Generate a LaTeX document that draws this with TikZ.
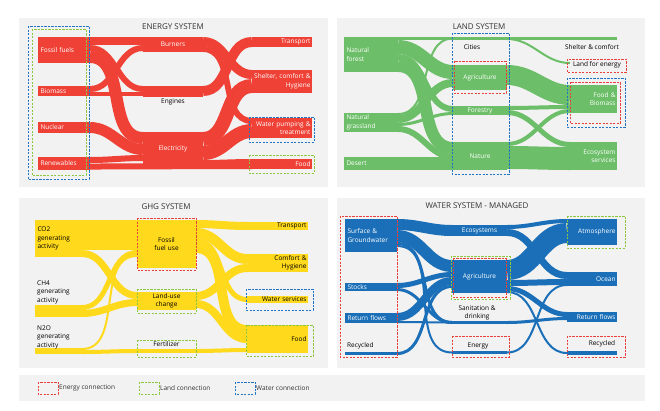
\documentclass[tikz,border=0pt]{standalone}
\usepackage{fontspec}
\setmainfont{Open Sans}
\usepackage{tikz}
\usetikzlibrary{calc}
\definecolor{NexusRed}{HTML}{EF4136}
\definecolor{NexusGreen}{HTML}{6CBE68}
\definecolor{NexusYellow}{HTML}{FFD91C}
\definecolor{NexusBlue}{HTML}{1A6FB8}
\definecolor{NexusPanel}{HTML}{F2F2F2}
\definecolor{NexusText}{HTML}{333333}
\definecolor{BoxRed}{HTML}{E8403A}
\definecolor{BoxGreen}{HTML}{8DC63F}
\definecolor{BoxBlue}{HTML}{1F75C4}
\newcommand{\flowband}[6]{\draw[#1,line width=#2pt] ($(#3.north east)+(0,#4)$) to[out=0,in=180] ($(#5.north west)+(0,#6)$);}

\begin{document}
\begin{tikzpicture}[x=1pt,y=-1pt,
  panel/.style={fill=NexusPanel},
  ttl/.style={text=NexusText,font=\fontsize{8}{9}\selectfont,inner sep=0pt},
  bar/.style={anchor=north west,inner xsep=2.5pt,inner ysep=0pt,outer sep=0pt,
    text=white,font=\fontsize{6.5}{8.5}\selectfont},
  rside/.style={inner xsep=1.5pt,align=right},
  lbl/.style={inner sep=0pt,font=\fontsize{6.5}{8.5}\selectfont,align=left},
  ebar/.style={bar,fill=NexusRed}, lbar/.style={bar,fill=NexusGreen},
  gbar/.style={bar,fill=NexusYellow,text=black}, wbar/.style={bar,fill=NexusBlue},
  enbox/.style={draw=BoxRed,line width=0.9pt,dash pattern=on 2.2pt off 1.3pt},
  ldbox/.style={draw=BoxGreen,line width=0.9pt,dash pattern=on 2.2pt off 1.3pt},
  wtbox/.style={draw=BoxBlue,line width=0.9pt,dash pattern=on 2.2pt off 1.3pt}]
  \useasboundingbox (0,0) rectangle (660,410);
  \fill[white] (0,0) rectangle (660,410);

  % energy system
  \fill[panel] (19,18) rectangle (328,187);
  \node[ttl] (etitle) at (173,27) {ENERGY SYSTEM};
  \node[ebar,text width=47pt,minimum height=26pt,align=left] (fossil) at (38,37) {Fossil fuels};
  \node[ebar,text width=47pt,minimum height=10pt,align=left] (bio) at (38,86) {Biomass};
  \node[ebar,text width=47pt,minimum height=11pt,align=left] (nuc) at (38,122) {Nuclear};
  \node[ebar,text width=47pt,minimum height=13pt,align=left] (ren) at (38,157) {Renewables};
  \node[ebar,text width=55pt,minimum height=15pt,align=center] (burn) at (143,37) {Burners};
  \node[ebar,text width=55pt,minimum height=11pt] (eng) at (143,86) {};
  \node[lbl] (engl) at (173,102) {Engines};
  \node[ebar,text width=55pt,minimum height=33pt,align=center] (elec) at (143,132) {Electricity};
  \node[ebar,rside,text width=57pt,minimum height=10pt] (trans) at (252,37) {Transport};
  \node[ebar,rside,text width=57pt,minimum height=23pt] (shel) at (252,70) {Shelter, comfort \&\\Hygiene};
  \node[ebar,rside,text width=57pt,minimum height=20pt] (water) at (252,118) {Water pumping \&\\treatment};
  \node[ebar,rside,text width=57pt,minimum height=10pt] (food) at (252,159) {Food};
  \flowband{NexusRed}{8}{fossil}{4}{burn}{4}
  \flowband{NexusRed}{6}{fossil}{11}{eng}{3}
  \flowband{NexusRed}{12}{fossil}{20}{elec}{6}
  \flowband{NexusRed}{6}{bio}{3}{burn}{11}
  \flowband{NexusRed}{4}{bio}{8}{eng}{8}
  \flowband{NexusRed}{11}{nuc}{5.5}{elec}{17.5}
  \flowband{NexusRed}{6}{ren}{3}{elec}{26}
  \flowband{NexusRed}{6}{ren}{9.5}{food}{7}
  \flowband{NexusRed}{9}{burn}{4.5}{shel}{4.5}
  \flowband{NexusRed}{6}{burn}{12}{water}{3}
  \flowband{NexusRed}{10}{eng}{5}{trans}{5}
  \flowband{NexusRed}{14}{elec}{7}{shel}{16}
  \flowband{NexusRed}{14}{elec}{21}{water}{13}
  \flowband{NexusRed}{4}{elec}{30}{food}{2}
  \draw[wtbox] (28,26) rectangle (89,179);
  \draw[ldbox] (32,29) rectangle (86,175);
  \draw[wtbox] (249,117) rectangle (314,142);
  \draw[ldbox] (249,155) rectangle (314,173);

  % land system
  \fill[panel] (337,18) rectangle (645,187);
  \node[ttl] (ltitle) at (479,27) {LAND SYSTEM};
  \node[lbar,text width=49pt,minimum height=35pt,align=left] (forest) at (344,37) {Natural\\forest};
  \node[lbar,text width=49pt,minimum height=19pt,align=left] (grass) at (344,113) {Natural\\grassland};
  \node[lbar,text width=49pt,minimum height=13pt,align=left] (desert) at (344,157) {Desert};
  \node[lbar,text width=49pt,minimum height=3pt] (cities) at (453,37) {};
  \node[lbl] (citiesl) at (472,47) {Cities};
  \node[lbar,text width=49pt,minimum height=25pt,align=center] (agri) at (453,65) {Agriculture};
  \node[lbar,text width=49pt,minimum height=9pt,align=center] (forestry) at (453,106) {Forestry};
  \node[lbar,text width=49pt,minimum height=28pt,align=center] (nature) at (453,142) {Nature};
  \node[lbar,rside,text width=44pt,minimum height=3pt] (shelter) at (570,37) {};
  \node[lbl] (shelterl) at (592,47) {Shelter \& comfort};
  \node[lbl] (lfe) at (597,65) {Land for energy};
  \node[lbar,rside,text width=44pt,minimum height=28pt] (lfood) at (570,85) {Food \&\\Biomass};
  \node[lbar,rside,text width=44pt,minimum height=28pt] (eco) at (570,142) {Ecosystem\\services};
  \flowband{NexusGreen}{3}{forest}{1.5}{cities}{1.5}
  \flowband{NexusGreen}{3}{cities}{1.5}{shelter}{1.5}
  \draw[NexusGreen,line width=2pt] ($(cities.north east)+(0,2)$) to[out=0,in=180] ($(lfe.west)+(-3,-2)$);
  \flowband{NexusGreen}{2}{grass}{1}{cities}{1.5}
  \flowband{NexusGreen}{14}{forest}{10}{agri}{7}
  \flowband{NexusGreen}{6}{forest}{20}{forestry}{3}
  \flowband{NexusGreen}{12}{forest}{29}{nature}{6}
  \flowband{NexusGreen}{8}{grass}{6}{agri}{18}
  \flowband{NexusGreen}{3}{grass}{11.5}{forestry}{7.5}
  \flowband{NexusGreen}{6}{grass}{16}{nature}{15}
  \flowband{NexusGreen}{13}{desert}{6.5}{nature}{21.5}
  \flowband{NexusGreen}{20}{agri}{10}{lfood}{10}
  \flowband{NexusGreen}{4}{forestry}{2}{lfood}{22}
  \flowband{NexusGreen}{5}{forestry}{6.5}{eco}{2.5}
  \flowband{NexusGreen}{4}{nature}{2}{lfood}{26}
  \flowband{NexusGreen}{23}{nature}{15.5}{eco}{16.5}
  \draw[wtbox] (452,33) rectangle (509,174);
  \draw[enbox] (454,61) rectangle (506,93);
  \draw[enbox] (567,59) rectangle (626,72);
  \draw[wtbox] (567,78) rectangle (625,127);
  \draw[enbox] (570,82) rectangle (620,123);

  % ghg system
  \fill[panel] (19,198) rectangle (328,368);
  \node[ttl] (gtitle) at (166,207) {GHG SYSTEM};
  \node[gbar,text width=42pt,minimum height=37pt,align=left] (co2) at (35,220) {CO2\\generating\\activity};
  \node[gbar,text width=42pt,minimum height=12pt] (ch4) at (35,305) {};
  \node[lbl,anchor=south west] (ch4l) at ($(ch4.north west)+(2,-1)$) {CH4\\generating\\activity};
  \node[gbar,text width=42pt,minimum height=6pt] (n2o) at (35,348) {};
  \node[lbl,anchor=south west] (n2ol) at ($(n2o.north west)+(2,1)$) {N2O\\generating\\activity};
  \node[gbar,text width=54pt,minimum height=48pt,align=center] (fuse) at (137,220) {Fossil\\fuel use};
  \node[gbar,text width=54pt,minimum height=18pt,align=center] (luc) at (137,292) {Land-use\\change};
  \node[gbar,text width=54pt,minimum height=4pt] (fert) at (137,349) {};
  \node[lbl] (fertl) at (166.5,344) {Fertilizer};
  \node[gbar,rside,text width=58pt,minimum height=8pt] (gtrans) at (247,222) {Transport};
  \node[gbar,rside,text width=58pt,minimum height=18pt] (comf) at (247,254) {Comfort \&\\Hygiene};
  \node[gbar,rside,text width=58pt,minimum height=7pt] (wsvc) at (247,296) {Water services};
  \node[gbar,rside,text width=58pt,minimum height=28pt] (gfood) at (247,325) {Food};
  \flowband{NexusYellow}{30}{co2}{15}{fuse}{15}
  \flowband{NexusYellow}{7}{co2}{33.5}{luc}{3.5}
  \flowband{NexusYellow}{5}{ch4}{2.5}{fuse}{32.5}
  \flowband{NexusYellow}{7}{ch4}{8.5}{luc}{10.5}
  \flowband{NexusYellow}{2}{n2o}{1}{fuse}{36}
  \flowband{NexusYellow}{4}{n2o}{4}{fert}{2}
  \flowband{NexusYellow}{4}{fert}{2}{gfood}{25}
  \flowband{NexusYellow}{8}{fuse}{4}{gtrans}{4}
  \flowband{NexusYellow}{10}{fuse}{13}{comf}{5}
  \flowband{NexusYellow}{5}{fuse}{20.5}{wsvc}{3.5}
  \flowband{NexusYellow}{10}{fuse}{28}{gfood}{5}
  \flowband{NexusYellow}{8}{luc}{4}{comf}{14}
  \flowband{NexusYellow}{8}{luc}{12}{gfood}{14}
  \draw[enbox] (137,218) rectangle (196,270);
  \draw[ldbox] (137,289) rectangle (196,313);
  \draw[ldbox] (137,340) rectangle (196,357);
  \draw[wtbox] (246,289) rectangle (313,310);
  \draw[ldbox] (246,325) rectangle (313,356);

  % water system
  \fill[panel] (337,198) rectangle (645,368);
  \node[ttl] (wtitle) at (477,206) {WATER SYSTEM - MANAGED};
  \node[wbar,text width=47pt,minimum height=33pt,align=left] (sgw) at (345,219) {Surface \&\\Groundwater};
  \node[wbar,text width=47pt,minimum height=8pt,align=left] (stocks) at (345,283) {Stocks};
  \node[wbar,text width=47pt,minimum height=10pt,align=left] (rflow) at (345,313) {Return flows};
  \node[wbar,text width=47pt,minimum height=3pt] (recyc) at (345,352) {};
  \node[lbl,anchor=south west] (recycl) at ($(recyc.north west)+(2,-3)$) {Recycled};
  \node[wbar,text width=50pt,minimum height=11pt,align=center] (weco) at (452,225) {Ecosystems};
  \node[wbar,text width=50pt,minimum height=33pt,align=center] (wagri) at (452,260) {Agriculture};
  \node[wbar,text width=50pt,minimum height=3pt] (sani) at (452,321) {};
  \node[lbl,align=center] (sanil) at (477,313) {Sanitation \&\\drinking};
  \node[wbar,text width=50pt,minimum height=3pt] (energy) at (452,351) {};
  \node[lbl] (energyl) at (478,346) {Energy};
  \node[wbar,rside,text width=47pt,minimum height=26pt] (atm) at (567,219) {Atmosphere};
  \node[wbar,rside,text width=47pt,minimum height=14pt] (ocean) at (567,272) {Ocean};
  \node[wbar,rside,text width=47pt,minimum height=10pt] (wret) at (567,312) {Return flows};
  \node[wbar,rside,text width=47pt,minimum height=4pt] (wrec) at (567,351) {};
  \node[lbl] (wrecl) at (602,344) {Recycled};
  \flowband{NexusBlue}{11}{sgw}{5.5}{weco}{5.5}
  \flowband{NexusBlue}{12}{sgw}{17}{wagri}{6}
  \flowband{NexusBlue}{3}{sgw}{24.5}{sani}{1.5}
  \flowband{NexusBlue}{2}{sgw}{27}{energy}{1.5}
  \flowband{NexusBlue}{5}{stocks}{2.5}{wagri}{14.5}
  \flowband{NexusBlue}{3}{stocks}{6.5}{sani}{1.5}
  \flowband{NexusBlue}{8}{rflow}{4}{wagri}{21}
  \flowband{NexusBlue}{2}{rflow}{9}{sani}{1.5}
  \flowband{NexusBlue}{3}{recyc}{1.5}{wagri}{26.5}
  \flowband{NexusBlue}{4}{weco}{2}{atm}{2}
  \flowband{NexusBlue}{7}{weco}{7.5}{ocean}{3.5}
  \flowband{NexusBlue}{20}{wagri}{10}{atm}{14}
  \flowband{NexusBlue}{6}{wagri}{23}{ocean}{10}
  \flowband{NexusBlue}{5}{wagri}{28.5}{wret}{2.5}
  \flowband{NexusBlue}{2}{wagri}{32}{wrec}{2}
  \flowband{NexusBlue}{3}{sani}{1.5}{wret}{6.5}
  \flowband{NexusBlue}{2}{energy}{1.5}{ocean}{13}
  \draw[enbox] (340,216) rectangle (397,357);
  \draw[ldbox] (451,256) rectangle (510,299);
  \draw[enbox] (453,258) rectangle (506,297);
  \draw[enbox] (452,336) rectangle (509,357);
  \draw[ldbox] (567,216) rectangle (625,248);
  \draw[enbox] (567,336) rectangle (625,357);

  % legend
  \fill[panel] (19,375) rectangle (645,401);
  \draw[enbox] (38,382) rectangle (58,394);
  \node[lbl,anchor=west,text=NexusText] (enleg) at (59,388) {Energy connection};
  \draw[ldbox] (139,382) rectangle (159,394);
  \node[lbl,anchor=west,text=NexusText] (ldleg) at (160,388) {Land connection};
  \draw[wtbox] (235,382) rectangle (255,394);
  \node[lbl,anchor=west,text=NexusText] (wtleg) at (256,388) {Water connection};
\end{tikzpicture}
\end{document}
